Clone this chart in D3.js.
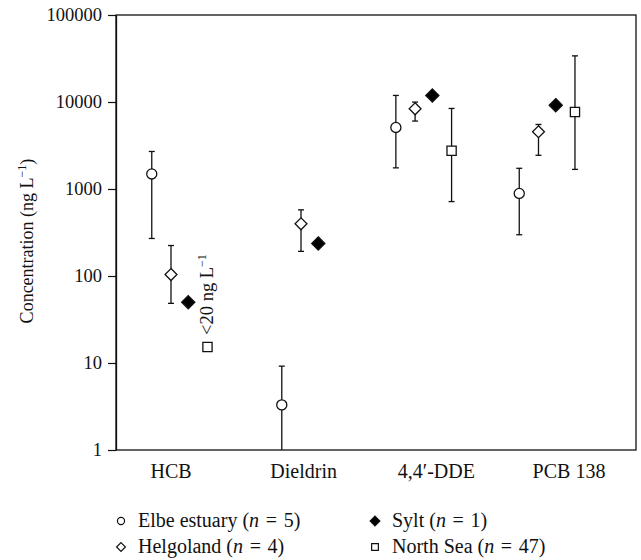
<!DOCTYPE html>
<html>
<head>
<meta charset="utf-8">
<script src="https://cdn.jsdelivr.net/npm/d3@7"></script>
<style>
	body { margin: 0; background: #fff; }
	text { font-family: "Liberation Serif", "DejaVu Serif", serif; fill: #111; }
</style>
</head>
<body>
<div id="chart"></div>
<script>
// Data
const categories = ["HCB", "Dieldrin", "4,4′-DDE", "PCB 138"];
const groupCenters = [1, 1.98, 2.84, 3.77];
const yTicks = [1, 10, 100, 1000, 10000, 100000];

const seriesNames = ["Elbe estuary", "Helgoland", "Sylt", "North Sea"];
const seriesCounts = [5, 4, 1, 47];

const elbeMean = [1490, 3.3, 5100, 890];
const elbeLow = [270, 1, 1750, 298];
const elbeHigh = [2700, 9.2, 11900, 1730];

const helgolandMean = [104, 398, 8360, 4550];
const helgolandLow = [48.5, 192, 6040, 2440];
const helgolandHigh = [224, 576, 9980, 5520];

const syltMean = [50, 237, 11900, 9200];

const northSeaMean = [15.3, null, 2750, 7660];
const northSeaLow = [null, null, 717, 1680];
const northSeaHigh = [null, null, 8430, 33900];

const width = 641;
const height = 560;
const margin = { top: 15, right: 5, bottom: 110, left: 116 };
const plotW = width - margin.left - margin.right;
const plotH = height - margin.top - margin.bottom;

const svg = d3.select("#chart").append("svg")
	.attr("width", width)
	.attr("height", height);

const g = svg.append("g")
	.attr("transform", `translate(${margin.left},${margin.top})`);

const xScale = d3.scaleLinear()
	.domain([1, 4])
	.range([55, 453]);

const yScale = d3.scaleLog()
	.domain([1, 100000])
	.range([plotH, 0]);

// frame
g.append("rect")
	.attr("x", 0).attr("y", 0)
	.attr("width", plotW).attr("height", plotH)
	.attr("fill", "none")
	.attr("stroke", "#111")
	.attr("stroke-width", 1.3);

// y axis
const yAxis = g.append("g")
	.call(d3.axisLeft(yScale).tickValues(yTicks).tickFormat(d3.format("d")).tickSize(8).tickSizeOuter(0));
yAxis.select(".domain").attr("stroke", "#111").attr("stroke-width", 1.3);
yAxis.selectAll(".tick line").attr("stroke", "#111").attr("stroke-width", 1.2);
yAxis.selectAll("text")
	.attr("font-size", "18.5px")
	.attr("x", -14)
	.attr("fill", "#111");

// x labels
g.append("g")
	.selectAll("text")
	.data(categories)
	.join("text")
	.attr("x", (d, i) => xScale(i + 1))
	.attr("y", plotH + 28)
	.attr("text-anchor", "middle")
	.attr("font-size", "20px")
	.text(d => d);

// y title
const yTitle = svg.append("text")
	.attr("transform", `translate(33,${margin.top + 226}) rotate(-90)`)
	.attr("text-anchor", "middle")
	.attr("font-size", "18px");
yTitle.append("tspan").text("Concentration (ng L");
yTitle.append("tspan").attr("dy", -7).attr("font-size", "12px").text("−1");
yTitle.append("tspan").attr("dy", 7).text(")");

// series setup
const seriesOffsets = [-0.145, 0, 0.13, 0.275];

function seriesPoints(si, mean, low, high) {
	return mean.map((v, i) => ({
		series: si,
		cat: i,
		value: v,
		low: low ? low[i] : null,
		high: high ? high[i] : null
	})).filter(d => d.value != null);
}

const points = [
	...seriesPoints(0, elbeMean, elbeLow, elbeHigh),
	...seriesPoints(1, helgolandMean, helgolandLow, helgolandHigh),
	...seriesPoints(2, syltMean, null, null),
	...seriesPoints(3, northSeaMean, northSeaLow, northSeaHigh)
];

const px = d => xScale(groupCenters[d.cat] + seriesOffsets[d.series]);
const capW = 3;

// error bars
const bars = g.append("g")
	.selectAll("g")
	.data(points.filter(d => d.low != null))
	.join("g")
	.attr("stroke", "#111")
	.attr("stroke-width", 1.3);

bars.append("line")
	.attr("x1", px).attr("x2", px)
	.attr("y1", d => yScale(d.low))
	.attr("y2", d => yScale(d.high));

bars.append("line")
	.attr("x1", d => px(d) - capW).attr("x2", d => px(d) + capW)
	.attr("y1", d => yScale(d.high))
	.attr("y2", d => yScale(d.high));

bars.filter(d => d.low > 1)
	.append("line")
	.attr("x1", d => px(d) - capW).attr("x2", d => px(d) + capW)
	.attr("y1", d => yScale(d.low))
	.attr("y2", d => yScale(d.low));

// markers
const symbolTypes = [d3.symbolCircle, d3.symbolDiamond2, d3.symbolDiamond2, d3.symbolSquare];
const symbolSizes = [80, 90, 110, 85];
const symbolFills = ["#fff", "#fff", "#000", "#fff"];

g.append("g")
	.selectAll("path")
	.data(points)
	.join("path")
	.attr("transform", d => `translate(${px(d)},${yScale(d.value)})`)
	.attr("d", d => d3.symbol(symbolTypes[d.series], symbolSizes[d.series])())
	.attr("fill", d => symbolFills[d.series])
	.attr("stroke", "#111")
	.attr("stroke-width", 1.3);

// "<20 ng L-1" note for the North Sea HCB point
const noteX = xScale(groupCenters[0] + seriesOffsets[3]) + 6;
const noteY = yScale(northSeaMean[0]) - 12;
const note = g.append("text")
	.attr("transform", `translate(${noteX},${noteY}) rotate(-90)`)
	.attr("font-size", "18.5px");
note.append("tspan").text("<20 ng L");
note.append("tspan").attr("dy", -7).attr("font-size", "12px").text("−1");

// legend
const legendPos = [[121, 521], [121, 547], [375, 521], [375, 547]];
const legendSizes = [40, 50, 60, 45];

const legend = svg.append("g")
	.selectAll("g")
	.data(seriesNames)
	.join("g")
	.attr("transform", (d, i) => `translate(${legendPos[i][0]},${legendPos[i][1]})`);

legend.append("path")
	.attr("d", (d, i) => d3.symbol(symbolTypes[i], legendSizes[i])())
	.attr("fill", (d, i) => symbolFills[i])
	.attr("stroke", "#111")
	.attr("stroke-width", 1.2);

const legendText = legend.append("text")
	.attr("x", 17)
	.attr("y", 6)
	.attr("font-size", "20px");
legendText.append("tspan").text(d => d + " (");
legendText.append("tspan").attr("font-style", "italic").text("n");
legendText.append("tspan").text((d, i) => "\u2004=\u2004" + seriesCounts[i] + ")");
</script>
</body>
</html>
